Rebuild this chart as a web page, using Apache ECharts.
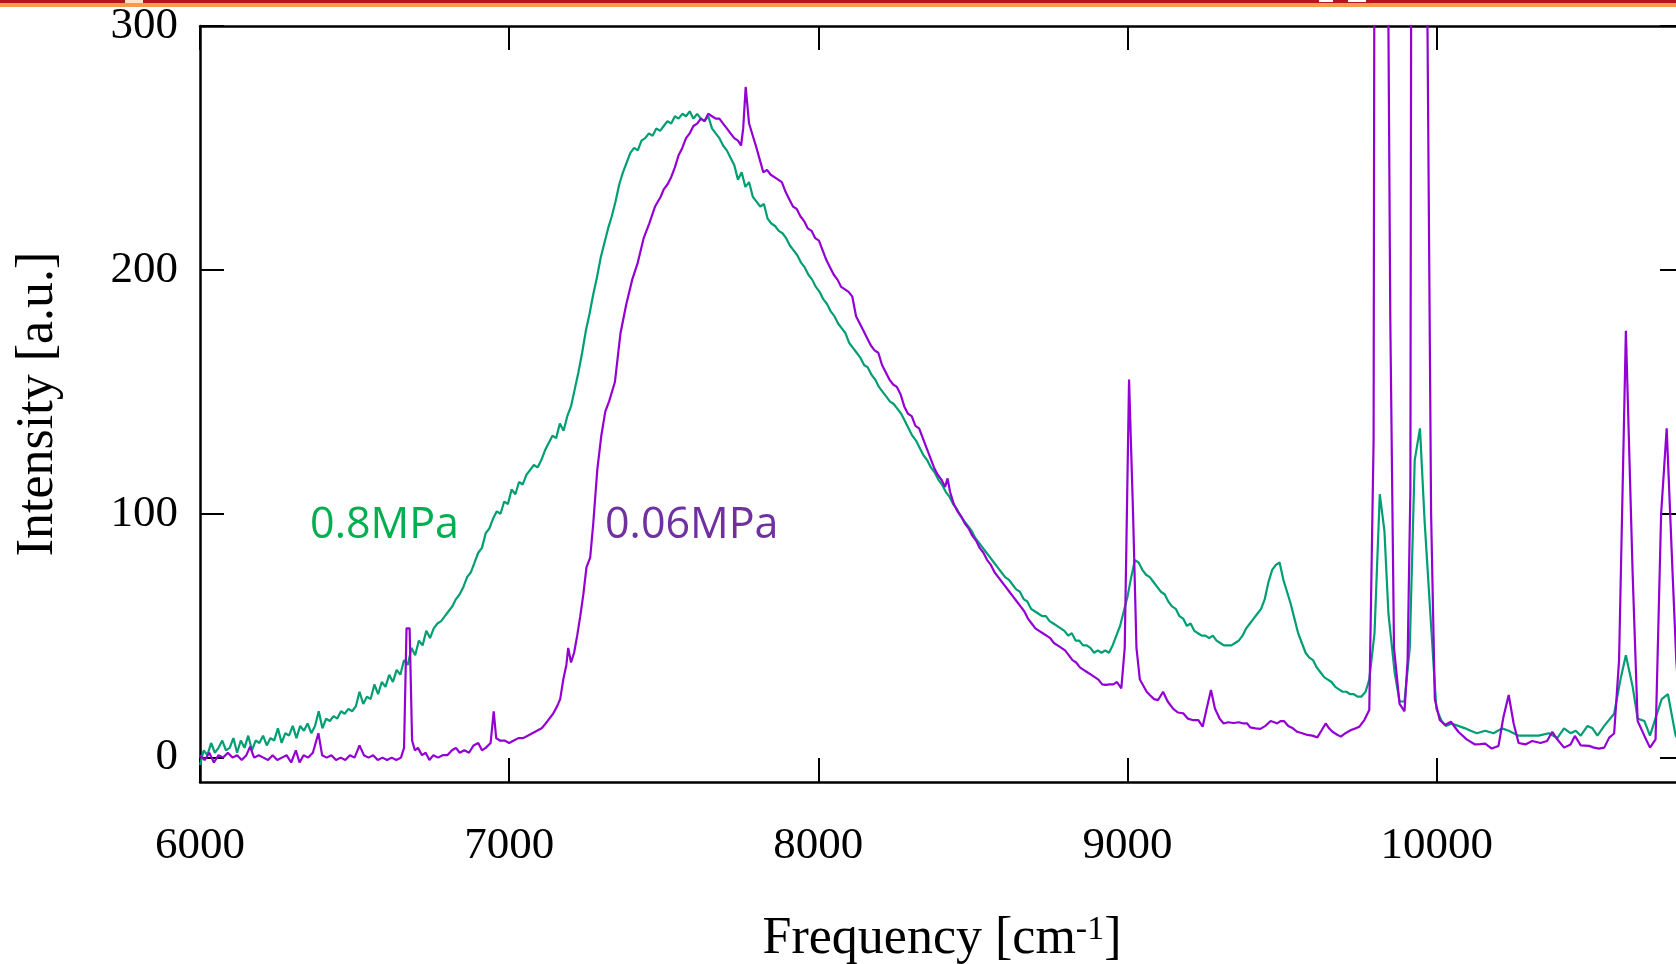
<!DOCTYPE html>
<html><head><meta charset="utf-8">
<script src="https://cdn.jsdelivr.net/npm/echarts@6/dist/echarts.min.js"></script>
<style>html,body{margin:0;padding:0;background:#fff;}#c{width:1676px;height:964px;}</style>
</head><body><div id="c"></div>
<script>
// ---- data ----
const xTicks = [6000, 7000, 8000, 9000, 10000];
const yTicks = [0, 100, 200, 300];

// 0.8 MPa spectrum (green)
const freq08 = [6000,6012,6024,6036,6048,6060,6072,6084,6096,6108,6120,6132,6144,6156,6168,6180,6192,6204,6216,6228,6240,6252,6264,6276,6288,6300,6312,6324,6336,6348,6360,6372,6384,6396,6408,6420,6432,6444,6456,6468,6480,6492,6504,6516,6528,6540,6552,6564,6576,6588,6600,6612,6624,6636,6648,6660,6672,6684,6696,6708,6720,6732,6744,6756,6768,6780,6792,6804,6816,6828,6840,6852,6864,6876,6888,6900,6912,6924,6936,6948,6960,6972,6984,6996,7008,7020,7032,7044,7056,7068,7080,7092,7104,7116,7128,7140,7152,7164,7176,7188,7200,7212,7224,7236,7248,7260,7272,7284,7296,7308,7320,7332,7344,7356,7368,7380,7392,7404,7416,7428,7440,7452,7464,7476,7488,7500,7512,7524,7536,7548,7560,7572,7584,7596,7608,7620,7632,7644,7656,7668,7680,7692,7704,7716,7728,7740,7752,7764,7776,7788,7800,7812,7824,7836,7848,7860,7872,7884,7896,7908,7920,7932,7944,7956,7968,7980,7992,8004,8016,8028,8040,8052,8064,8076,8088,8100,8112,8124,8136,8148,8160,8172,8184,8196,8208,8220,8232,8244,8256,8268,8280,8292,8304,8316,8328,8340,8352,8364,8376,8388,8400,8412,8424,8436,8448,8460,8472,8484,8496,8508,8520,8532,8544,8556,8568,8580,8592,8604,8616,8628,8640,8652,8664,8676,8688,8700,8712,8724,8736,8748,8760,8772,8784,8796,8808,8820,8832,8844,8856,8868,8880,8892,8904,8916,8928,8940,8952,8964,8976,8988,9000,9012,9024,9036,9048,9060,9072,9084,9096,9108,9120,9132,9144,9156,9168,9180,9192,9204,9216,9228,9240,9252,9264,9276,9288,9300,9312,9324,9336,9348,9360,9372,9384,9396,9408,9420,9432,9444,9456,9468,9480,9492,9504,9516,9528,9540,9552,9564,9576,9588,9600,9612,9624,9636,9648,9660,9672,9684,9696,9708,9720,9732,9744,9756,9770,9782,9799,9816,9831,9844,9864,9880,9896,9913,9929,9946,9961,9983,9999,10016,10030,10048,10070,10092,10110,10130,10157,10184,10211,10233,10265,10298,10330,10363,10390,10412,10433,10450,10466,10488,10504,10520,10542,10574,10596,10612,10634,10650,10672,10690,10710,10728,10748,10773,10800];
const int08 = [-3,3,1,6,2,4,7,3,4,8,2,7,4,9,3,7,6,9,5,8,7,12,6,10,9,13,8,13,11,14,10,13,19,12,16,15,17,16,19,18,20,19,21,27,22,25,24,30,26,31,29,34,31,36,34,40,38,45,42,48,46,52,49,53,55,56,58,60,62,65,67,70,74,76,80,84,86,92,94,98,101,100,105,104,110,108,113,112,116,118,120,119,122,126,129,132,131,137,134,140,144,151,158,166,175,182,190,197,205,211,217,222,228,235,240,244,248,250,249,253,254,256,255,258,257,259,261,260,263,262,264,263,265,262,264,262,261,263,258,256,254,251,249,246,243,237,240,234,236,230,228,226,227,221,219,218,216,215,213,210,208,206,203,201,198,196,193,191,188,186,183,181,178,176,174,170,168,166,164,161,160,157,155,152,150,148,146,145,143,141,138,135,132,130,127,124,122,119,117,114,112,109,107,104,102,99,97,95,93,90,88,86,84,82,80,78,76,74,73,71,69,68,65,64,61,60,59,58,58,56,55,54,53,52,50,51,48,48,46,46,45,43,44,43,44,43,46,50,54,60,66,74,81,80,77,75,74,72,70,68,67,64,62,61,58,57,54,55,52,51,50,50,49,50,48,47,46,46,46,47,48,50,53,55,57,59,61,65,72,77,79,80,73,68,63,57,51,47,43,41,40,37,35,33,32,31,29,28,27,27,26,26,25,25,27,32,51,108,93,59,35,23,23,45,122,135,97,52,20,15,13,14,13,12,11,10,11,10,12,11,9,9,9,10,8,12,10,11,9,13,12,9,13,18,33,42,29,16,15,9,17,24,26,9,4];

// 0.06 MPa spectrum (purple)
const freq006 = [6000,6015,6030,6045,6060,6075,6090,6105,6120,6135,6150,6162,6175,6190,6205,6220,6235,6250,6265,6280,6295,6310,6322,6335,6350,6365,6383,6395,6410,6425,6440,6455,6470,6485,6500,6516,6530,6545,6560,6575,6590,6605,6620,6635,6650,6660,6668,6678,6686,6695,6705,6718,6730,6742,6755,6770,6785,6800,6815,6828,6840,6855,6870,6885,6900,6912,6924,6940,6950,6958,6970,6985,7000,7015,7030,7045,7060,7075,7090,7105,7118,7130,7142,7155,7165,7175,7185,7191,7200,7210,7220,7230,7240,7250,7262,7272,7285,7298,7311,7323,7342,7360,7379,7398,7416,7435,7453,7472,7490,7500,7512,7524,7536,7548,7560,7572,7584,7596,7608,7620,7632,7644,7656,7668,7680,7692,7704,7716,7728,7740,7750,7757,7765,7776,7788,7800,7811,7822,7834,7846,7858,7870,7882,7894,7906,7918,7930,7942,7954,7966,7978,7990,8002,8014,8026,8038,8050,8062,8074,8086,8098,8110,8122,8134,8146,8158,8170,8182,8194,8206,8218,8230,8242,8254,8266,8278,8290,8302,8314,8326,8338,8350,8362,8374,8386,8398,8410,8418,8426,8438,8450,8462,8474,8486,8498,8510,8522,8534,8546,8558,8570,8582,8594,8606,8618,8630,8642,8654,8666,8678,8690,8702,8714,8726,8738,8750,8762,8774,8786,8798,8810,8822,8834,8846,8858,8870,8882,8894,8906,8918,8930,8942,8954,8966,8980,8991,9005,9018,9029,9040,9050,9062,9072,9086,9099,9115,9130,9148,9163,9180,9195,9210,9229,9243,9256,9270,9283,9298,9311,9325,9343,9360,9375,9387,9397,9414,9430,9446,9463,9475,9484,9495,9506,9520,9535,9549,9565,9582,9598,9614,9627,9641,9652,9663,9677,9690,9705,9723,9738,9750,9766,9782,9796,9812,9828,9850,9862,9880,9896,9906,9915,9930,9948,9965,9982,9994,10010,10027,10046,10070,10097,10124,10140,10157,10178,10200,10216,10233,10249,10265,10287,10309,10336,10357,10374,10390,10412,10433,10447,10466,10493,10509,10525,10542,10558,10574,10590,10612,10634,10650,10672,10690,10708,10726,10744,10764,10775,10790,10800];
const int006 = [1,-1,2,-2,1,0,2,0,1,-1,1,4.5,0,1,0,-1,1,-1,0,1,-2,3,-2,1,0,2,10,1,0,1,-1,0,-1,1,0,5,1,0,1,-1,0,-1,0,-1,0,4,53,53,7,3,4,1,2,-1,1,0,1,1,3,4,2,3,2,5,6,3,4,6,19,8,7,7,6,7,8,8,9,10,11,12,14,16,18,21,24,32,38,45,39,43,50,58,67,78,82,96,118,132,142,146,154,174,186,196,203,213,219,226,230,233,235,238,242,247,250,254,256,259,260,262,261,264,263,262,262,260,258,256,254,253,251,258,275,260,255,250,245,240,241,239,238,237,236,232,229,226,225,222,220,217,216,213,212,208,204,201,198,196,193,192,191,189,181,178,175,172,169,167,166,161,158,155,153,152,149,144,141,140,136,135,131,127,123,119,116,114,111,114.5,109,104,101,99,96,94,91,89,86,84,81,79,76,74,72,70,68,66,64,62,60,57,55,53,52,51,50,49,47,46,45,44,42,40,39,37,36,35,34,33,32,30,29.8,30,30,31,28.4,45,155,100,45,32,29.8,27,25.7,24,23.6,27,23,20,18.5,18.2,16,15.4,15.4,12.7,20,27.7,20,16,14,14.5,14.2,14.5,14,14,12.4,12,11.8,13,15,14.5,14,15,15,13,12,10.6,10,9.3,9,8.3,11,14,12,10.6,9.5,8.6,10,11.3,12,12.7,15.4,19.5,130,1400,620,180,45,22,19,40,110,1350,700,390,100,24,15.4,13.4,14.7,10.6,7.5,5.4,5.5,5.7,3.7,4.8,16.7,25.7,14,6,5.4,6.8,6,6.8,10.6,7.5,4.1,5.4,8.9,5,4.8,4.1,3.7,4.1,8.2,9.9,40,175,75,15,8.9,4.1,7.5,100,135,72.8,40,12,8];

// text annotations (anchored in data coordinates)
const annotations = [
  { text: '0.8MPa', freq: 6356, value: 95, color: '#00B050' },
  { text: '0.06MPa', freq: 7310, value: 95, color: '#7030A0' }
];

// ---- chart ----
const serif = '"Liberation Serif", "Times New Roman", serif';
const axisLineStyle = { color: '#000', width: 2.5 };
const tickStyle = { color: '#000', width: 2 };
const chart = echarts.init(document.getElementById('c'));

function axisBase(extra) {
  return Object.assign({
    type: 'value',
    axisLine: { show: true, onZero: false, lineStyle: axisLineStyle },
    splitLine: { show: false }
  }, extra);
}

const option = {
  animation: false,
  backgroundColor: '#ffffff',
  grid: { left: 200, right: -8, top: 26, bottom: 182, containLabel: false, outerBoundsMode: 'none' },
  xAxis: [
    axisBase({
      min: 6000, max: 10800, position: 'bottom',
      axisTick: { inside: true, length: 24, lineStyle: tickStyle, customValues: xTicks },
      axisLabel: { customValues: xTicks, margin: 42, fontFamily: serif, fontSize: 45, color: '#000', formatter: v => String(v) },
      name: '{a|Frequency [cm}{s|-1}{a|]}',
      nameLocation: 'middle', nameGap: 131,
      nameTextStyle: {
        rich: {
          a: { fontFamily: serif, fontSize: 52, color: '#000' },
          s: { fontFamily: serif, fontSize: 34, color: '#000', verticalAlign: 'top' }
        }
      }
    }),
    axisBase({
      min: 6000, max: 10800, position: 'top',
      axisTick: { inside: true, length: 24, lineStyle: tickStyle, customValues: xTicks },
      axisLabel: { show: false }
    })
  ],
  yAxis: [
    axisBase({
      min: -10, max: 300, position: 'left',
      axisTick: { inside: true, length: 24, lineStyle: tickStyle, customValues: yTicks },
      axisLabel: { customValues: yTicks, margin: 22, fontFamily: serif, fontSize: 45, color: '#000', formatter: v => String(v) },
      name: 'Intensity [a.u.]', nameLocation: 'middle', nameRotate: 90, nameGap: 136,
      nameTextStyle: { fontFamily: serif, fontSize: 52, color: '#000' }
    }),
    axisBase({
      min: -10, max: 300, position: 'right',
      axisTick: { inside: true, length: 24, lineStyle: tickStyle, customValues: yTicks },
      axisLabel: { show: false }
    })
  ],
  series: [
    {
      name: '0.8MPa', type: 'line', xAxisIndex: 0, yAxisIndex: 0,
      showSymbol: false, symbol: 'none', clip: true,
      lineStyle: { color: '#009e73', width: 2.2 },
      data: freq08.map((f, i) => [f, int08[i]])
    },
    {
      name: '0.06MPa', type: 'line', xAxisIndex: 0, yAxisIndex: 0,
      showSymbol: false, symbol: 'none', clip: true,
      lineStyle: { color: '#9400d3', width: 2.2 },
      data: freq006.map((f, i) => [f, int006[i]])
    }
  ]
};
chart.setOption(option);

// header strip + annotation texts
const graphics = [
  { type: 'rect', id: 'stripRed', shape: { x: 0, y: 0, width: 1676, height: 3 }, style: { fill: '#B3161D' }, silent: true },
  { type: 'rect', id: 'stripOrange', shape: { x: 0, y: 3, width: 1676, height: 4 }, style: { fill: '#F89A4E' }, silent: true },
  { type: 'rect', id: 'notch1', shape: { x: 125, y: 0, width: 18, height: 3 }, style: { fill: '#FBE3CC' }, silent: true },
  { type: 'rect', id: 'notch2', shape: { x: 1319, y: 0, width: 14, height: 2 }, style: { fill: '#FFFFFF' }, silent: true },
  { type: 'rect', id: 'notch3', shape: { x: 1348, y: 0, width: 18, height: 2 }, style: { fill: '#FFFFFF' }, silent: true }
];
annotations.forEach((a, i) => {
  const p = chart.convertToPixel({ gridIndex: 0 }, [a.freq, a.value]);
  graphics.push({
    type: 'text', id: 'ann' + i, x: p[0], y: p[1], silent: true,
    style: { text: a.text, fill: a.color, font: '43px "Open Sans", "Noto Sans", sans-serif', textAlign: 'left', textVerticalAlign: 'middle' }
  });
});
chart.setOption({ graphic: graphics });
</script>
</body></html>
